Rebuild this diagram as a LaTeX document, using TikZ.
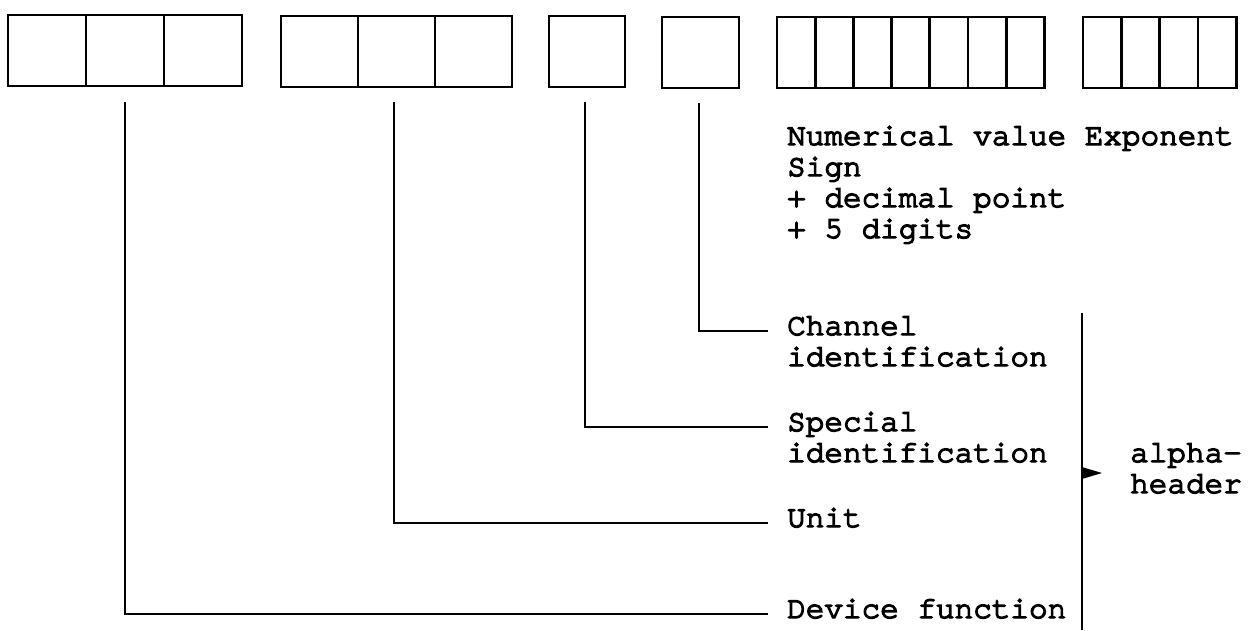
\documentclass[tikz,border=0pt]{standalone}
\usepackage{fontspec}
\newfontfamily\tw{texgyrecursor-regular.otf}[FakeBold=4.5,Ligatures={NoCommon}]
\begin{document}
\begin{tikzpicture}[x=1pt,y=-1pt,
  cell/.style={draw,line width=2.8pt,minimum height=71pt,inner sep=0pt,outer sep=0pt,anchor=north west},
  conn/.style={line width=2.4pt},
  lbl/.style={font=\tw\fontsize{31}{31}\selectfont,inner sep=0pt,anchor=base west}]
\useasboundingbox (0,0) rectangle (1248,630);
% group 1
\node[cell,minimum width=78pt] (a1) at (8,15) {};
\node[cell,minimum width=78pt] (a2) at (a1.north east) {};
\node[cell,minimum width=78pt] (a3) at (a2.north east) {};
% group 2
\node[cell,minimum width=77pt] (b1) at (281,16) {};
\node[cell,minimum width=77pt] (b2) at (b1.north east) {};
\node[cell,minimum width=77pt] (b3) at (b2.north east) {};
% group 3
\node[cell,minimum width=76pt] (c1) at (549,16) {};
% group 4
\node[cell,minimum width=77pt] (d1) at (662,17) {};
% group 5
\node[cell,minimum width=38.2pt] (e1) at (777,17) {};
\foreach \i [count=\j from 1] in {2,...,7}{
  \node[cell,minimum width=38.2pt] (e\i) at (e\j.north east) {};
}
% group 6
\node[cell,minimum width=38.3pt] (f1) at (1083,17) {};
\foreach \i [count=\j from 1] in {2,...,4}{
  \node[cell,minimum width=38.3pt] (f\i) at (f\j.north east) {};
}
% labels
\node[lbl] (num1) at (787,145) {Numerical value Exponent};
\node[lbl] (num2) at (787,176) {Sign};
\node[lbl] (num3) at (787,207) {+ decimal point};
\node[lbl] (num4) at (787,238) {+ 5 digits};
\node[lbl] (chan1) at (787,335) {Channel};
\node[lbl] (chan2) at (787,366) {identification};
\node[lbl] (spec1) at (787,431) {Special};
\node[lbl] (spec2) at (787,462) {identification};
\node[lbl] (unit) at (787,527) {Unit};
\node[lbl] (dev) at (787,618) {Device function};
\node[lbl] (alpha1) at (1130,462) {alpha-};
\node[lbl] (alpha2) at (1130,493) {header};
% connector end points
\coordinate (ch) at (768,331);
\coordinate (sp) at (768,427);
\coordinate (un) at (768,523);
\coordinate (dv) at (768,614);
\coordinate (t1) at (125,102);
\coordinate (t2) at (394,102);
\coordinate (t3) at (585,102);
\coordinate (t4) at (699,103);
\draw[conn] (t1) |- (dv);
\draw[conn] (t2) |- (un);
\draw[conn] (t3) |- (sp);
\draw[conn] (t4) |- (ch);
% bracket
\coordinate (bt) at (1082,313);
\coordinate (bb) at (1082,630);
\draw[conn] (bt) -- (bb);
\fill (1082,467) -- (1102,473) -- (1082,479) -- cycle;
\end{tikzpicture}
\end{document}
